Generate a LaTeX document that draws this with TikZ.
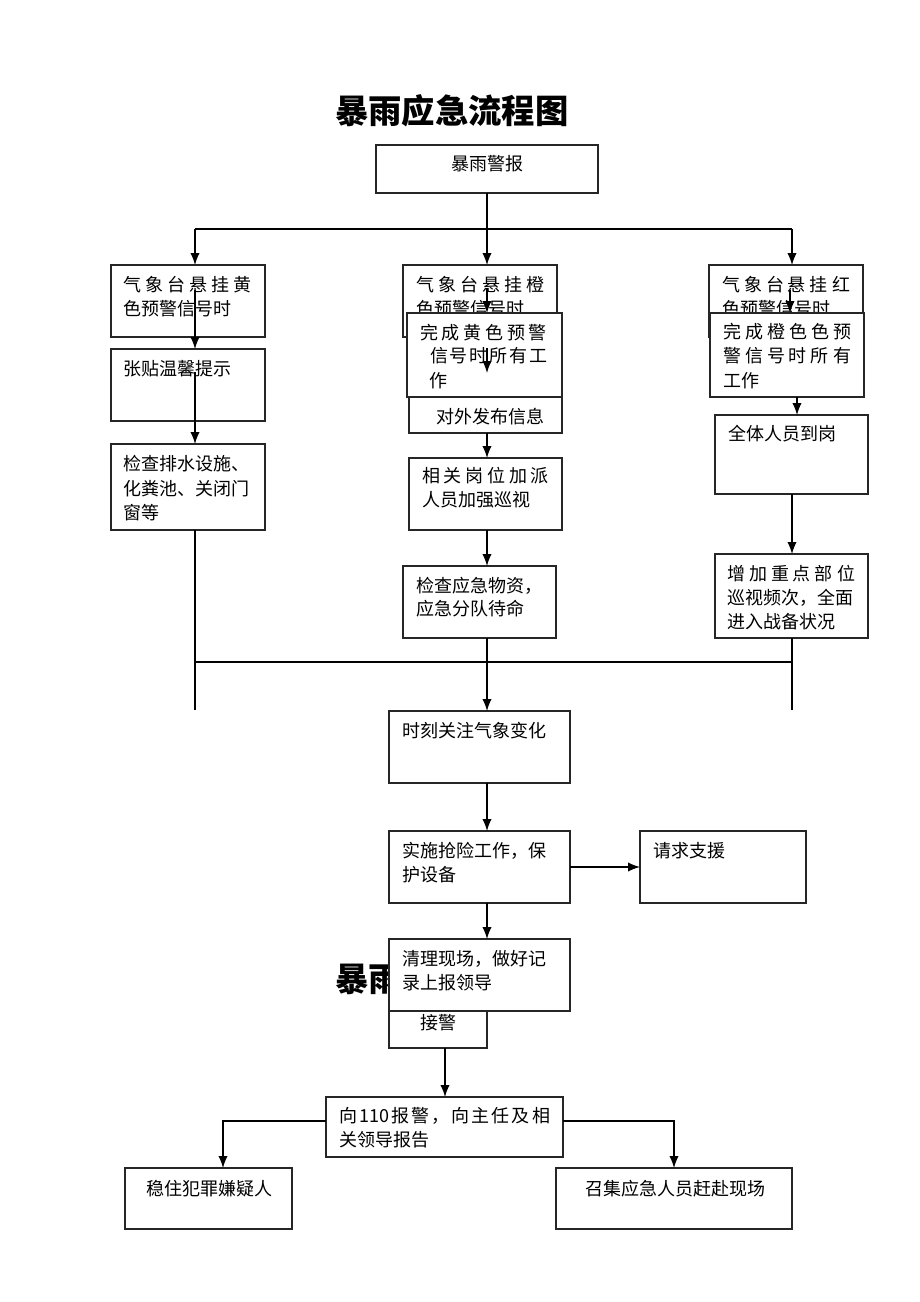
\documentclass[tikz,border=0pt]{standalone}
\usepackage{fontspec}
\newfontfamily\cjk{Noto Sans CJK SC}
\usetikzlibrary{arrows.meta,calc}
\tikzset{
  box/.style={draw=black!85,line width=0.95pt,fill=white,inner sep=0pt,outer sep=0pt},
  txt/.style={inner sep=0pt,outer sep=0pt,yshift=-1.5pt,text height=0.83em,text depth=0.07em,font=\cjk\fontsize{13.5}{16}\selectfont},
  ttl/.style={inner sep=0pt,font=\cjk\bfseries\fontsize{25}{30}\selectfont},
  conn/.style={line width=0.95pt,draw=black},
  arr/.style={conn,-{Latex[length=9pt,width=7pt]}}
}
% box: name, x1, y1, x2, y2 (pixels)
\newcommand\bx[5]{\node[box,minimum width={(#4-#2)*0.75pt},minimum height={(#5-#3)*0.75pt}] (#1) at ({(#2+#4)/2},{(#3+#5)/2}) {};}
% text line: name, x, y, text
\newcommand\tx[4]{\node[txt,anchor=west] (#1) at (#2,#3) {#4};}
% spread text line: name, x1, y, x2, text
\newcommand\sx[5]{\node[txt,anchor=west] (#1) at (#2,#3) {\makebox[\dimexpr 0.75pt*(#4-#2)\relax][s]{#5}};}
\begin{document}
\begin{tikzpicture}[x=0.75pt,y=-0.75pt]
\path[use as bounding box] (0,0) rectangle (920,1302);
\fill[white] (0,0) rectangle (920,1302);

% title
\node[ttl,anchor=west] (title) at (335,111) {暴雨应急流程图};

% top box
\bx{top}{376}{145}{598}{193}
\node[txt] (topt) at (487,163) {暴雨警报};

% left column
\bx{L1}{111}{265}{265}{337}
\sx{L1a}{123}{284}{252}{气\hfill 象\hfill 台\hfill 悬\hfill 挂\hfill 黄}
\tx{L1b}{123}{308}{色预警信号时}
\bx{L2}{111}{349}{265}{421}
\tx{L2a}{123}{368}{张贴温馨提示}
\bx{L3}{111}{444}{265}{530}
\tx{L3a}{123}{463}{检查排水设施、}
\tx{L3b}{123}{488}{化粪池、关闭门}
\tx{L3c}{123}{512}{窗等}

% middle column
\bx{M1}{403}{265}{557}{337}
\sx{M1a}{416}{284}{545}{气\hfill 象\hfill 台\hfill 悬\hfill 挂\hfill 橙}
\tx{M1b}{416}{308}{色预警信号时}
\bx{M2}{409}{373}{562}{433}
\tx{M2b}{436}{416}{对外发布信息}
\bx{M3}{407}{313}{562}{397}
\sx{M3a}{420}{332}{547}{完\hfill 成\hfill 黄\hfill 色\hfill 预\hfill 警}
\sx{M3b}{430}{355}{547}{信\hfill 号\hfill 时\hfill 所\hfill 有\hfill 工}
\tx{M3c}{429}{380}{作}
\bx{M4}{409}{458}{562}{530}
\sx{M4a}{422}{475}{549}{相\hfill 关\hfill 岗\hfill 位\hfill 加\hfill 派}
\tx{M4b}{422}{499}{人员加强巡视}
\bx{M5}{403}{566}{556}{638}
\tx{M5a}{416}{585}{检查应急物资，}
\tx{M5b}{416}{608}{应急分队待命}

% right column
\bx{R1}{709}{265}{863}{337}
\sx{R1a}{722}{284}{850}{气\hfill 象\hfill 台\hfill 悬\hfill 挂\hfill 红}
\tx{R1b}{722}{308}{色预警信号时}
\bx{R2}{710}{313}{864}{397}
\sx{R2a}{723}{331}{852}{完\hfill 成\hfill 橙\hfill 色\hfill 色\hfill 预}
\sx{R2b}{723}{355}{851}{警\hfill 信\hfill 号\hfill 时\hfill 所\hfill 有}
\tx{R2c}{723}{380}{工作}
\bx{R3}{715}{415}{868}{494}
\tx{R3a}{728}{433}{全体人员到岗}
\bx{R4}{715}{554}{868}{638}
\sx{R4a}{727}{573}{855}{增\hfill 加\hfill 重\hfill 点\hfill 部\hfill 位}
\sx{R4b}{727}{597}{855}{巡视频次，全面}
\tx{R4c}{727}{621}{进入战备状况}

% center
\bx{C1}{389}{711}{570}{783}
\tx{C1a}{402}{730}{时刻关注气象变化}
\bx{C2}{389}{831}{570}{903}
\sx{C2a}{402}{850}{558}{实施抢险工作，保}
\tx{C2b}{402}{874}{护设备}
\bx{S}{640}{831}{806}{903}
\tx{Sa}{653}{850}{请求支援}

% second title (only its visible part), then boxes
\node[ttl,anchor=west] (title2) at (335,979) {暴雨};
\bx{J}{389}{960}{487}{1048}
\tx{Ja}{420}{1022}{接警}
\bx{C3}{389}{939}{570}{1011}
\sx{C3a}{402}{958}{558}{清理现场，做好记}
\tx{C3b}{402}{982}{录上报领导}

\bx{B1}{326}{1097}{563}{1157}
\sx{B1a}{339}{1115}{550}{向\hfill 110\hfill 报\hfill 警\hfill ，\hfill 向\hfill 主\hfill 任\hfill 及\hfill 相}
\tx{B1b}{339}{1139}{关领导报告}
\bx{B2}{125}{1168}{292}{1229}
\node[txt] (B2a) at (209,1188) {稳住犯罪嫌疑人};
\bx{B3}{556}{1168}{792}{1229}
\node[txt] (B3a) at (675,1188) {召集应急人员赶赴现场};

% connectors
\coordinate (h1) at (195,229);
\coordinate (hm) at (487,229);
\coordinate (h3) at (792,229);
\draw[conn] (top.south -| hm) -- (hm);
\draw[conn] (h1) -- (h3);
\draw[arr] (h1) -- (h1 |- L1.north);
\draw[arr] (hm) -- (hm |- M1.north);
\draw[arr] (h3) -- (h3 |- R1.north);

% left
\coordinate (la) at (195,290);
\coordinate (lb) at (195,372);
\coordinate (lc) at (195,710);
\draw[arr] (la) -- (la |- L2.north);
\draw[arr] (lb) -- (lb |- L3.north);
\draw[conn] (lc |- L3.south) -- (lc);

% merge line
\coordinate (g1) at (195,662);
\coordinate (g3) at (792,662);
\draw[conn] (g1) -- (g3);

% middle
\coordinate (ma) at (487,288);
\coordinate (mc) at (487,348);
\draw[arr] (ma) -- (ma |- M3.north);
\draw[arr] (mc) -- (mc |- M2.north);
\draw[arr] (mc |- M2.south) -- (mc |- M4.north);
\draw[arr] (mc |- M4.south) -- (mc |- M5.north);
\draw[arr] (mc |- M5.south) -- (mc |- C1.north);

% right
\coordinate (ra) at (790,290);
\coordinate (rx) at (797,400);
\coordinate (rd) at (792,710);
\draw[arr] (ra) -- (ra |- R2.north);
\draw[arr] (rx |- R2.south) -- (rx |- R3.north);
\draw[arr] (h3 |- R3.south) -- (h3 |- R4.north);
\draw[conn] (h3 |- R4.south) -- (rd);

% center
\draw[arr] (mc |- C1.south) -- (mc |- C2.north);
\draw[arr] (C2.east) -- (S.west);
\draw[arr] (mc |- C2.south) -- (mc |- C3.north);
\coordinate (jx) at (445,1050);
\draw[arr] (jx |- J.south) -- (jx |- B1.north);

% bottom
\coordinate (bl) at (223,1121);
\coordinate (br) at (674,1121);
\draw[arr] (bl -| B1.west) -- (bl) -- (bl |- B2.north);
\draw[arr] (br -| B1.east) -- (br) -- (br |- B3.north);
\end{tikzpicture}
\end{document}
